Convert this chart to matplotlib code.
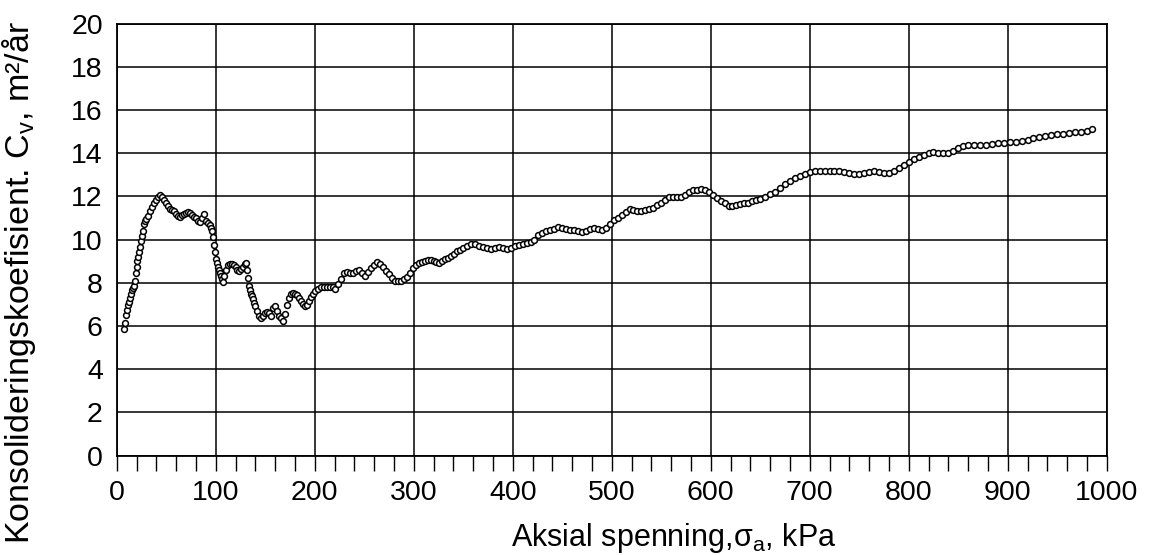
import matplotlib
matplotlib.use("Agg")
import matplotlib.pyplot as plt
from matplotlib.ticker import MultipleLocator

plt.rcParams['font.family'] = ['Liberation Sans', 'DejaVu Sans']
plt.rcParams['mathtext.fontset'] = 'custom'
plt.rcParams['mathtext.rm'] = 'Liberation Sans'

# Axial stress (kPa) and consolidation coefficient (m2/year)
stress = [
    7, 8, 9, 10, 11, 12, 13, 14, 15, 16, 17, 18, 19, 20, 21, 22, 23, 24, 25, 26,
    27, 28, 29, 30, 32, 34, 36, 38, 40, 42, 44, 46, 48, 50, 52, 54, 56, 58, 60, 62,
    64, 66, 68, 70, 72, 74, 76, 78, 80, 82, 84, 86, 88, 90, 92, 94, 95, 96, 97, 98,
    99, 100, 101, 102, 103, 104, 105, 106, 107, 108, 110, 112, 114, 116, 118, 120,
    122, 124, 126, 128, 130, 131, 132, 133, 134, 135, 136, 137, 138, 139, 140, 142,
    144, 146, 148, 150, 152, 154, 156, 158, 160, 162, 164, 166, 168, 170, 172, 174,
    176, 178, 180, 182, 184, 186, 188, 190, 192, 194, 196, 198, 200, 203, 206, 209,
    212, 215, 218, 221, 224, 227, 230, 233, 236, 239, 242, 245, 248, 251, 254, 257,
    260, 263, 266, 269, 272, 275, 278, 281, 284, 287, 290, 293, 296, 299, 302, 305,
    308, 311, 314, 317, 320, 323, 326, 329, 332, 335, 338, 341, 344, 347, 350, 354,
    358, 362, 366, 370, 374, 378, 382, 386, 390, 394, 398, 402, 406, 410, 414, 418,
    422, 426, 430, 434, 438, 442, 446, 450, 454, 458, 462, 466, 470, 474, 478, 482,
    486, 490, 494, 498, 502, 506, 510, 514, 518, 522, 526, 530, 534, 538, 542, 546,
    550, 554, 558, 562, 566, 570, 574, 578, 582, 586, 590, 594, 598, 602, 606, 610,
    614, 618, 622, 626, 630, 634, 638, 642, 646, 650, 655, 660, 665, 670, 675, 680,
    685, 690, 695, 700, 705, 710, 715, 720, 725, 730, 735, 740, 745, 750, 755, 760,
    765, 770, 775, 780, 785, 790, 795, 800, 805, 810, 815, 820, 825, 830, 835, 840,
    845, 850, 855, 860, 866, 872, 878, 884, 890, 896, 902, 908, 914, 920, 926, 932,
    938, 944, 950, 956, 962, 968, 974, 980, 985,
]
cv = [
    5.85, 6.15, 6.5, 6.75, 6.95, 7.1, 7.3, 7.5, 7.65, 7.75, 7.85, 8.1, 8.45, 8.75, 9.0, 9.2, 9.4, 9.65, 9.95, 10.15,
    10.4, 10.7, 10.85, 10.95, 11.1, 11.3, 11.5, 11.7, 11.85, 11.98, 12.05, 11.98, 11.85, 11.7, 11.55, 11.42, 11.38, 11.3, 11.2, 11.1,
    11.05, 11.15, 11.2, 11.22, 11.25, 11.22, 11.12, 11.05, 11.0, 10.85, 10.8, 11.0, 11.2, 10.85, 10.75, 10.68, 10.55, 10.4, 10.1, 9.75,
    9.4, 9.1, 8.9, 8.75, 8.6, 8.45, 8.3, 8.15, 8.05, 8.3, 8.6, 8.8, 8.85, 8.85, 8.82, 8.72,
    8.6, 8.55, 8.62, 8.72, 8.88, 8.93, 8.6, 8.2, 7.85, 7.65, 7.5, 7.4, 7.25, 7.05, 6.92, 6.7,
    6.48, 6.35, 6.45, 6.6, 6.65, 6.6, 6.48, 6.85, 6.9, 6.7, 6.48, 6.35, 6.25, 6.55, 6.95, 7.3,
    7.5, 7.52, 7.5, 7.45, 7.3, 7.15, 7.0, 6.92, 6.95, 7.15, 7.35, 7.5, 7.6, 7.72, 7.82, 7.82,
    7.82, 7.8, 7.78, 7.72, 7.95, 8.15, 8.45, 8.5, 8.47, 8.46, 8.52, 8.58, 8.45, 8.32, 8.5, 8.67,
    8.82, 8.95, 8.88, 8.74, 8.55, 8.38, 8.2, 8.09, 8.07, 8.09, 8.15, 8.25, 8.45, 8.7, 8.8, 8.92,
    8.97, 9.02, 9.06, 9.05, 9.0, 8.96, 8.93, 9.0, 9.08, 9.15, 9.25, 9.35, 9.45, 9.52, 9.6, 9.7,
    9.78, 9.78, 9.72, 9.66, 9.6, 9.56, 9.6, 9.64, 9.62, 9.58, 9.6, 9.68, 9.76, 9.8, 9.85, 9.9,
    10.0, 10.2, 10.32, 10.38, 10.42, 10.5, 10.56, 10.54, 10.5, 10.46, 10.44, 10.4, 10.37, 10.4, 10.48, 10.52,
    10.5, 10.44, 10.52, 10.7, 10.88, 11.0, 11.13, 11.27, 11.4, 11.38, 11.33, 11.32, 11.36, 11.4, 11.48, 11.58,
    11.68, 11.82, 11.96, 11.98, 11.96, 11.95, 12.05, 12.2, 12.27, 12.31, 12.32, 12.28, 12.2, 12.05, 11.92, 11.8,
    11.68, 11.55, 11.55, 11.62, 11.65, 11.68, 11.7, 11.76, 11.82, 11.88, 11.98, 12.1, 12.22, 12.38, 12.55, 12.72,
    12.85, 12.94, 13.05, 13.14, 13.17, 13.18, 13.19, 13.19, 13.19, 13.18, 13.14, 13.09, 13.05, 13.03, 13.06, 13.12,
    13.19, 13.14, 13.1, 13.1, 13.18, 13.3, 13.45, 13.6, 13.72, 13.83, 13.92, 14.0, 14.03, 14.02, 14.02, 14.02,
    14.08, 14.22, 14.33, 14.37, 14.38, 14.37, 14.38, 14.42, 14.45, 14.48, 14.5, 14.53, 14.57, 14.62, 14.68, 14.73,
    14.77, 14.82, 14.87, 14.9, 14.94, 14.96, 14.98, 15.02, 15.1,
]

xticks = [0, 100, 200, 300, 400, 500, 600, 700, 800, 900, 1000]
yticks = [0, 2, 4, 6, 8, 10, 12, 14, 16, 18, 20]

fig = plt.figure(figsize=(11.5, 5.55), dpi=100)
ax = fig.add_axes([116.7 / 1150, 1 - 455.5 / 555, (1106.7 - 116.7) / 1150, (455.5 - 23.5) / 555])

ax.plot(stress, cv, linestyle='none', marker='o', markersize=4.2,
        markerfacecolor='white', markeredgecolor='black', markeredgewidth=1.1,
        zorder=3, clip_on=False)

ax.set_xlim(0, 1000)
ax.set_ylim(0, 20)
ax.set_xticks(xticks)
ax.set_yticks(yticks)
ax.xaxis.set_minor_locator(MultipleLocator(20))
ax.grid(True, which='major', color='black', linewidth=1.1)
ax.set_axisbelow(True)

for s in ax.spines.values():
    s.set_linewidth(1.3)
    s.set_color('black')

ax.tick_params(axis='x', which='both', direction='out', length=11, width=1.0,
               labelsize=20.5, pad=7, colors='black')
ax.tick_params(axis='y', which='both', length=0, labelsize=20.5, pad=10)

fig.text(674 / 1150, 1 - 538 / 555, 'Aksial spenning,σ$_\\mathregular{a}$, kPa',
         ha='center', va='center', fontsize=22)
fig.text(19 / 1150, 1 - 283 / 555,
         'Konsolideringskoefisient. C$_\\mathregular{v}$, m²/år',
         rotation=90, ha='center', va='center', fontsize=24.5)

fig.savefig('out.png', dpi=100, facecolor='white')
